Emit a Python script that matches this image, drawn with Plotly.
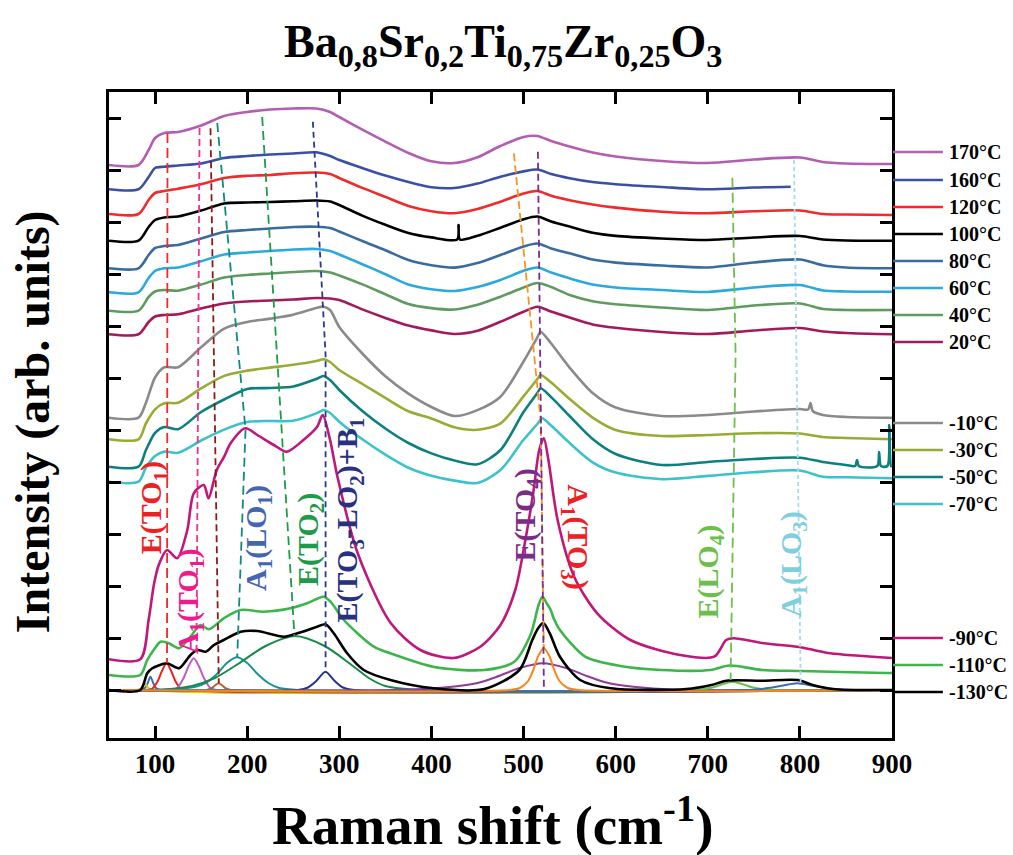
import plotly.graph_objects as go

FONT = "Liberation Serif"

# ---------------- spectra: Raman shift (cm-1) / intensity (arb. units) ----------------
X_STD = [50, 82, 93, 100, 110, 125, 150, 175, 200, 225, 250, 275, 290, 300, 325, 350, 375, 400,
         425, 450, 475, 500, 515, 530, 550, 575, 600, 650, 700, 750, 800, 825, 850, 900]

Y_170 = [551, 551, 566, 578, 583, 584, 590.5, 600, 604, 606.5, 607.5, 607.5, 604, 599, 586.4, 574.4,
         563, 554.7, 553, 558.8, 570, 579, 580, 575, 569.5, 563.5, 559.5, 555, 553, 556.5, 558.5, 554, 552.5, 552]

X_160 = [50, 82, 93, 100, 110, 125, 150, 175, 200, 225, 250, 275, 290, 300, 325, 350, 375, 400,
         425, 450, 475, 500, 515, 530, 550, 575, 600, 650, 700, 750, 790]
Y_160 = [526.7, 526.7, 539, 548, 549.3, 550.5, 552.5, 558, 560, 561.5, 562.5, 563.7, 560, 556, 548, 540.4,
         534, 528.8, 528, 532.4, 539.3, 544.6, 546.5, 542, 537.8, 534, 531.8, 529, 526.7, 528.5, 529.3]

Y_120 = [502, 502, 516, 523, 525, 527.3, 531.7, 538, 540.2, 541, 542.8, 543.5, 542, 538, 528.1, 519.1,
         510, 504.8, 502.8, 507, 514.3, 522.4, 525, 520.2, 515.8, 511.5, 508.4, 504.3, 502.7, 504.7, 505.5, 502, 501.5, 501]

X_100 = [50, 82, 93, 100, 110, 125, 150, 175, 200, 225, 250, 275, 290, 300, 325, 350, 375, 400,
         428, 429.5, 431, 450, 475, 500, 515, 530, 550, 575, 600, 650, 700, 750, 800, 825, 850, 900]
Y_100 = [475.3, 475.3, 489, 496, 498.5, 499.5, 505.5, 512.5, 513.5, 514, 514.7, 515.5, 514.5, 511, 500.4, 491.2,
         483, 478.6, 476.5, 491, 476.5, 480.2, 488.3, 496.8, 499.5, 494.5, 489.4, 483.2, 480.1, 477.5, 476, 478.5,
         480, 476.5, 475.5, 475.3]

Y_80 = [447.7, 447.7, 461, 468, 470, 471, 477.5, 484, 486, 487.5, 489, 489.3, 488, 484.5, 475, 465.8,
        456, 450.8, 448.4, 452.9, 461, 469.5, 472.5, 467.5, 462.7, 456.5, 453.4, 450.5, 448.5, 453.5, 456.5, 450.7, 448.5, 447.7]

Y_60 = [423.7, 423.7, 438, 445, 447.7, 448.5, 454.7, 461.5, 463.5, 465, 466.5, 467, 465, 461.5, 451.8, 441.8,
        431.5, 426.7, 425, 429, 436, 445.2, 448.5, 443.5, 437.7, 431.5, 428.5, 426, 424, 428.5, 431, 425.5, 424.5, 424.3]

Y_40 = [405.3, 405.3, 419, 424.5, 426, 425.3, 431.5, 438.5, 441, 442.5, 444, 445, 443.5, 440.5, 431.6, 421.8,
        412, 407.9, 406.5, 411.2, 419.3, 428.5, 433, 429, 421, 414.8, 411.7, 408.5, 406, 410.5, 412.5, 407, 406, 406]

Y_20 = [381.7, 381.7, 394, 399.5, 401, 401.7, 407.5, 412.5, 414.5, 415.5, 416.5, 418, 417.5, 416, 406.6, 398.1,
        390.4, 385.6, 382, 385.2, 394.2, 404.2, 409.3, 404.4, 398.4, 391.6, 388.2, 384, 382, 385.5, 388, 384.5, 383, 381.7]

X_M10 = [50, 82, 90, 100, 110, 125, 150, 175, 200, 225, 250, 275, 283, 290, 300, 325, 350, 375, 400,
         425, 450, 475, 500, 515, 518.5, 530, 550, 575, 600, 650, 700, 750, 800, 809, 811.5, 814, 825, 850, 900]
Y_M10 = [298.3, 298.3, 313, 338.5, 348.7, 348.8, 368.7, 387.4, 394, 397.4, 401.3, 408, 409.3, 406, 389, 362.5,
         339.8, 322.4, 309, 300, 305.9, 319.3, 354.5, 378.7, 384.3, 372.5, 348.4, 323, 308.5, 300, 301, 304.5,
         307, 306.5, 313, 305, 301, 299, 298.3]

X_M30 = [50, 82, 90, 100, 110, 125, 150, 175, 200, 225, 250, 275, 283, 290, 300, 325, 350, 375, 400,
         425, 450, 475, 500, 515, 518.5, 530, 550, 575, 600, 650, 700, 750, 800, 825, 850, 900]
Y_M30 = [276.7, 276.7, 292.5, 306.7, 312.8, 313.2, 327.6, 340.1, 345.4, 348.4, 351.2, 355, 356.7, 354, 346, 332,
         318.1, 304.7, 297.6, 288.7, 286.2, 292.7, 319.7, 337, 341, 333.6, 317, 298.4, 286, 280, 281, 282.8,
         282.5, 279, 278, 276.7]

X_M50 = [50, 82, 90, 100, 110, 125, 150, 175, 200, 225, 250, 275, 283, 290, 300, 325, 350, 375, 400,
         425, 450, 475, 500, 515, 518.5, 530, 550, 575, 600, 650, 700, 750, 800, 825, 850, 860, 862, 864,
         884, 886, 888, 895, 897, 899, 900]
Y_M50 = [249.3, 249.3, 265.7, 283.2, 289, 286.8, 304, 316.5, 327, 328, 329.5, 337, 340, 336, 326, 305,
         287.5, 273, 262.6, 255.4, 251.7, 266, 304, 323, 327.7, 318.9, 300, 277, 262, 251, 254, 257,
         258.3, 254, 251, 250, 256, 250, 250, 264, 250, 250, 291, 250, 250]

X_M70 = [50, 82, 90, 100, 110, 125, 150, 175, 200, 225, 250, 275, 283, 290, 300, 325, 350, 375, 400,
         425, 450, 475, 500, 515, 520, 530, 550, 575, 600, 650, 700, 750, 800, 825, 850, 900]
Y_M70 = [234.3, 234.3, 248.3, 260, 264.4, 263.2, 275.5, 286.4, 294, 295, 295.2, 302.6, 306, 303, 294.3, 276.7,
         261.4, 248.3, 240.3, 235.4, 233, 246, 276.2, 292, 297.7, 290.4, 273, 253.7, 243.4, 236.8, 240.1, 243.8,
         245.5, 239.2, 238.7, 237.7]

X_M90 = [50, 84, 93, 99, 104, 113, 124, 135, 142, 153, 158, 167, 175, 182, 198, 211, 229, 243, 261, 276,
         282, 290, 298, 320, 356, 388, 424, 453, 475, 491, 502, 511, 517, 522, 527, 537, 555, 580, 616, 670,
         707, 720, 728, 761, 797, 815, 833, 900]
Y_M90 = [56.7, 56.7, 96, 132.7, 151, 166, 157.7, 186, 222.7, 231, 217.7, 246, 259.3, 272.7, 287.7, 281, 271,
         264.3, 276, 289.3, 301, 276, 239.3, 162.7, 92.7, 66, 58, 69.3, 91, 126, 176, 226, 266, 277.7, 256, 196,
         139.3, 102.7, 76, 61, 59.3, 76, 77.7, 72.7, 69.3, 66, 62.7, 58]

X_M110 = [50, 84, 91.5, 98.5, 106, 115, 126, 138.5, 149, 158.5, 174.5, 193, 218, 247, 265, 283, 290.5, 305,
          337.5, 355.5, 403, 457.5, 490, 507.5, 512, 516, 520.5, 525, 529.5, 533, 539.5, 567, 605, 649.5, 703,
          723.5, 759, 800.5, 893, 900]
Y_M110 = [41, 41, 56, 66, 74.3, 72.7, 67.7, 79.3, 91, 86.7, 97.7, 106, 104.3, 107.7, 112.7, 119.3, 114.3, 96,
          69.3, 62.7, 49, 46, 54.3, 81, 95, 110, 119.3, 113, 106, 97, 86, 59.3, 50, 46, 46, 50.5, 46, 45, 43, 43]

X_M130 = [50, 84, 91.5, 97, 102.5, 113, 126, 138.5, 146, 155, 164, 174.5, 193, 211, 240, 254.5, 276, 285, 294,
          308.5, 326.5, 355.5, 402.5, 457.5, 495.5, 509.5, 516, 521.5, 528.5, 539.5, 561.5, 594.5, 677, 704,
          720.5, 759, 797.5, 814, 836, 900]
Y_M130 = [26, 26, 42.7, 47.7, 50, 52.7, 47.7, 61, 66, 64.3, 71, 76, 84.3, 85, 79.3, 82.7, 89.3, 91.7, 82.7,
          62.7, 46, 36, 27.7, 27, 46, 76, 88, 93, 82.7, 59.3, 36, 27.7, 27, 31, 35.3, 35.3, 36, 31, 27, 26]

SPECTRA = [
    ("170°C", X_STD, Y_170, "#B35DB3"),
    ("160°C", X_160, Y_160, "#3A4FA6"),
    ("120°C", X_STD, Y_120, "#EF2B2B"),
    ("100°C", X_100, Y_100, "#000000"),
    ("80°C", X_STD, Y_80, "#386C9F"),
    ("60°C", X_STD, Y_60, "#2BA8DC"),
    ("40°C", X_STD, Y_40, "#5F9A60"),
    ("20°C", X_STD, Y_20, "#A2195C"),
    ("-10°C", X_M10, Y_M10, "#8A8A8A"),
    ("-30°C", X_M30, Y_M30, "#9BAA34"),
    ("-50°C", X_M50, Y_M50, "#0B807E"),
    ("-70°C", X_M70, Y_M70, "#3CC2CA"),
    ("-90°C", X_M90, Y_M90, "#C0177A"),
    ("-110°C", X_M110, Y_M110, "#3CB54A"),
    ("-130°C", X_M130, Y_M130, "#000000"),
]

# ---------------- fitted components of the -130°C spectrum ----------------
COMPONENTS = [
    ([50, 84, 89, 92, 95, 98, 101, 106, 900], [26, 26, 28, 33, 39.3, 33, 28, 26, 26], "#3C6CB4"),
    ([50, 80, 85, 89, 93, 98, 900], [26, 26, 28, 32, 28, 26, 26], "#E6CF00"),
    ([50, 92, 97, 103, 107.5, 112.5, 117.5, 122, 128, 133, 900], [26, 26, 27.5, 35, 45, 52.7, 45, 35, 27.5, 26, 26], "#EE2020"),
    ([50, 118, 124, 131, 136.5, 142, 147.5, 153, 160, 167, 900], [26, 26, 28, 38, 50, 57.7, 50, 38, 28, 26, 26], "#C25CC4"),
    ([50, 156, 161, 165, 169, 173, 177, 182, 900], [26, 26, 27.5, 30.5, 32.7, 30.5, 27.5, 26, 26], "#A8692A"),
    ([50, 110, 130, 145, 155, 167.5, 178, 189, 200, 211, 223, 235, 255, 900],
     [26, 26.5, 27.5, 29.5, 33, 42.3, 53, 58.7, 53, 42.3, 33, 28, 26, 26], "#14958E"),
    ([50, 110, 140, 165, 190, 220, 252, 284, 312, 332, 350, 380, 900],
     [26, 26.5, 30, 38, 52, 70, 80, 70, 52, 38, 30, 26.5, 26], "#178A4C"),
    ([50, 255, 266, 275, 285, 295, 304, 316, 900], [26, 26, 28.5, 35, 44.3, 35, 28.5, 26, 26], "#26338C"),
    ([50, 380, 420, 450, 471, 496, 521, 546, 571, 592, 622, 660, 900],
     [26, 26.5, 29, 33, 39.3, 48, 52.7, 48, 39.3, 33, 29, 26.5, 26], "#8E3B98"),
    ([50, 690, 705, 715, 727, 739, 749, 765, 900], [26, 26.3, 28.5, 31.5, 34.3, 31.5, 28.5, 26.3, 26], "#6CC04A"),
    ([50, 750, 770, 782, 797, 812, 824, 845, 900], [26, 26.3, 28.5, 30.5, 32.7, 30.5, 28.5, 26.3, 26], "#3C6CB4"),
    ([50, 485, 496, 505, 511, 516, 522, 528, 533, 539, 548, 560, 900],
     [26, 26, 28, 35, 47, 60, 67.7, 60, 47, 35, 28, 26, 26], "#F7861D"),
]

# ---------------- mode guide lines and labels ----------------
GUIDE_X = [[113.5, 113], [148.3, 145], [160.2, 169.2], [167.5, 198.2, 189.2], [216.3, 251.4],
           [271.3, 285.1, 285.1], [489.5, 518.6, 522], [515.6, 522.1], [726.7, 730.2, 724.8], [793.6, 800.8]]
GUIDE_Y = [[583, 53], [588, 63], [587.7, 32.7], [593, 286, 59], [599, 79],
           [594.3, 361, 43], [562.7, 296, 66], [564.3, 29], [538.3, 361, 36], [556, 32.7]]
GUIDE_COLORS = ["#EE2A2A", "#F0308C", "#8B1A1A", "#0E8A80", "#1E9A48",
                "#2B3990", "#F7941D", "#7B2C8C", "#6CC04A", "#A8DCEA"]
GUIDE_DASH = ["10px,5px", "7px,4px", "7px,4px", "9px,5px", "9px,5px",
              "6px,4px", "8px,4px", "7px,4px", "10px,5px", "4px,3px"]

MODE_TEXT = ["E(TO<sub>1</sub>)", "A<sub>1</sub>(TO<sub>1</sub>)", "A<sub>1</sub>(LO<sub>1</sub>)",
             "E(TO<sub>2</sub>)", "E(TO<sub>3</sub>-LO<sub>2</sub>)+B<sub>1</sub>", "E(TO<sub>4</sub>)",
             "A<sub>1</sub>(TO<sub>3</sub>)", "E(LO<sub>4</sub>)", "A<sub>1</sub>(LO<sub>3</sub>)"]
MODE_X = [98, 138, 211.7, 268.2, 311, 503.3, 556.6, 702, 792.7]
MODE_Y = [208, 114, 178, 176, 196, 201, 179, 144, 152]
MODE_ANGLE = [-90, -90, -90, -90, -90, -90, 90, -90, -90]
MODE_COLORS = ["#ED2024", "#EC1C8C", "#4466B0", "#1E9A48", "#27317F", "#7A2D86", "#ED2024", "#6CC04A", "#7ECFE0"]

# ---------------- legend ----------------
LEGEND_Y = [564, 536, 509, 482, 455, 428, 401, 374, 293, 266, 239, 212, 78, 51, 24]

X_TICKS = [100, 200, 300, 400, 500, 600, 700, 800, 900]
Y_TICKS = [26, 78, 130, 182, 234, 286, 338, 390, 442, 494, 546, 598]

fig = go.Figure()

for cx, cy, col in COMPONENTS:
    fig.add_trace(go.Scatter(x=cx, y=cy, mode="lines", line=dict(color=col, width=2, shape="spline", smoothing=0.8),
                             showlegend=False, hoverinfo="skip"))

for name, sx, sy, col in SPECTRA:
    fig.add_trace(go.Scatter(x=sx, y=sy, mode="lines", name=name,
                             line=dict(color=col, width=2.6, shape="spline", smoothing=0.8),
                             showlegend=False))

for gx, gy, col, dash in zip(GUIDE_X, GUIDE_Y, GUIDE_COLORS, GUIDE_DASH):
    fig.add_trace(go.Scatter(x=gx, y=gy, mode="lines", line=dict(color=col, width=1.8, dash=dash),
                             showlegend=False, hoverinfo="skip"))

annotations = []
for txt, mx, my, ang, col in zip(MODE_TEXT, MODE_X, MODE_Y, MODE_ANGLE, MODE_COLORS):
    annotations.append(dict(x=mx, y=my, xref="x", yref="y", text="<b>" + txt + "</b>", textangle=ang,
                            showarrow=False, font=dict(family=FONT, size=30, color=col)))

shapes = []
for (name, sx, sy, col), ly in zip(SPECTRA, LEGEND_Y):
    shapes.append(dict(type="line", xref="paper", yref="y", x0=1.0013, x1=1.065, y0=ly, y1=ly,
                       line=dict(color=col, width=2.6)))
    annotations.append(dict(x=1.070, y=ly, xref="paper", yref="y", text="<b>" + name + "</b>",
                            xanchor="left", yanchor="middle", showarrow=False,
                            font=dict(family=FONT, size=20, color="black")))

annotations.append(dict(x=0.5026, y=1.0728, xref="paper", yref="paper",
                        text="<b>Ba<sub>0,8</sub>Sr<sub>0,2</sub>Ti<sub>0,75</sub>Zr<sub>0,25</sub>O<sub>3</sub></b>",
                        showarrow=False, xanchor="center", yanchor="middle",
                        font=dict(family=FONT, size=46, color="black")))
annotations.append(dict(x=0.49, y=-0.13, xref="paper", yref="paper",
                        text="<b>Raman shift (cm<sup>-1</sup>)</b>", showarrow=False,
                        xanchor="center", yanchor="middle", font=dict(family=FONT, size=55, color="black")))
annotations.append(dict(x=-0.097, y=0.489, xref="paper", yref="paper", textangle=-90,
                        text="<b>Intensity (arb. units)</b>", showarrow=False,
                        xanchor="center", yanchor="middle", font=dict(family=FONT, size=48, color="black")))

fig.update_layout(
    width=1013, height=855,
    margin=dict(l=109, r=121, t=92, b=117),
    plot_bgcolor="white", paper_bgcolor="white",
    font=dict(family=FONT, color="black"),
    shapes=shapes, annotations=annotations,
    xaxis=dict(range=[50, 900], tickvals=X_TICKS, ticktext=[str(v) for v in X_TICKS],
               showline=True, linecolor="black", linewidth=3, mirror="ticks",
               ticks="inside", ticklen=12, tickwidth=3, tickcolor="black",
               showgrid=False, zeroline=False,
               tickfont=dict(family=FONT, size=27, color="black", weight="bold")),
    yaxis=dict(range=[-22, 624], tickvals=Y_TICKS, showticklabels=False,
               showline=True, linecolor="black", linewidth=3, mirror="ticks",
               ticks="inside", ticklen=12, tickwidth=3, tickcolor="black",
               showgrid=False, zeroline=False),
)

fig.write_html("out.html", config={"displayModeBar": False},
               post_script="document.body.style.margin='0px';document.body.style.overflow='hidden';")
